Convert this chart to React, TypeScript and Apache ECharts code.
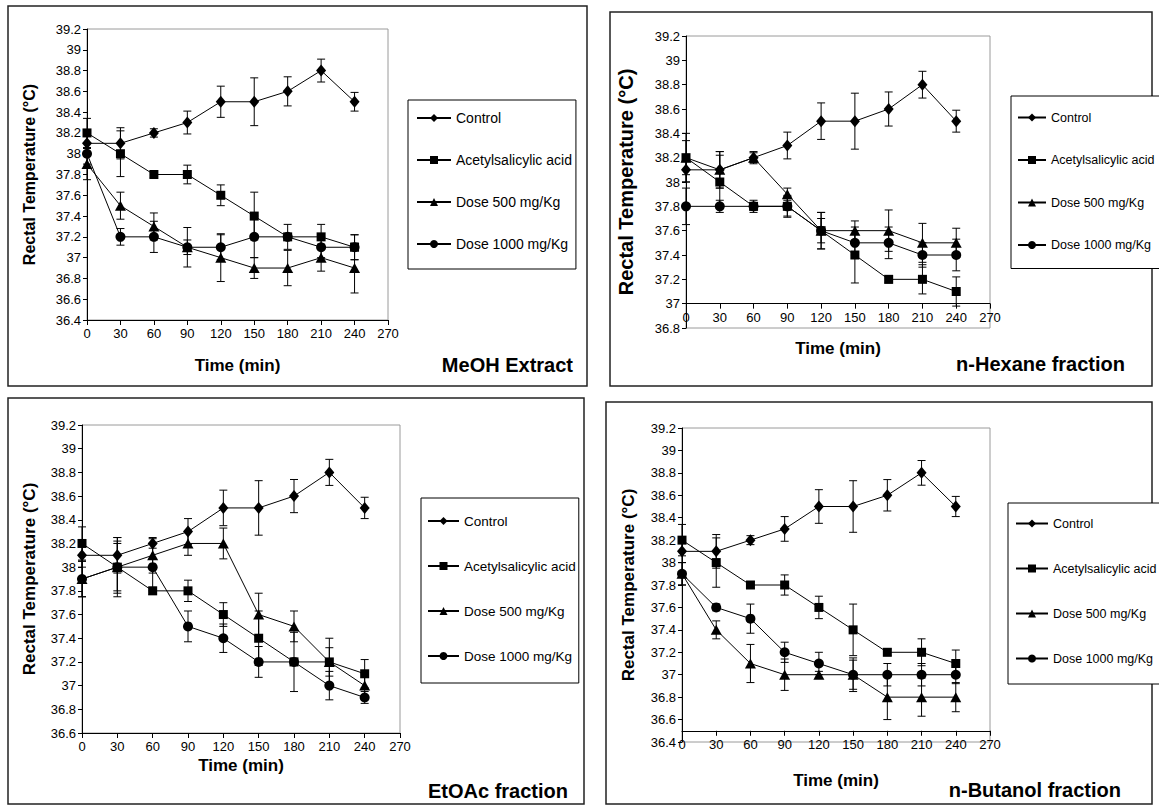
import React, { useEffect, useRef } from "react";
import * as echarts from "echarts";

// ---------- data ----------
const times = [0, 30, 60, 90, 120, 150, 180, 210, 240];
const seriesNames = ["Control", "Acetylsalicylic acid", "Dose 500 mg/Kg", "Dose 1000 mg/Kg"];
const panelTitles = ["MeOH Extract", "n-Hexane fraction", "EtOAc fraction", "n-Butanol fraction"];

const controlMean = [38.1, 38.1, 38.2, 38.3, 38.5, 38.5, 38.6, 38.8, 38.5];
const controlSD = [0.1, 0.15, 0.04, 0.11, 0.15, 0.23, 0.14, 0.11, 0.09];
const aspirinMean = [38.2, 38.0, 37.8, 37.8, 37.6, 37.4, 37.2, 37.2, 37.1];
const aspirinSD = [0.14, 0.22, 0.03, 0.09, 0.1, 0.23, 0.03, 0.12, 0.12];

const meohDose500 = [37.9, 37.5, 37.3, 37.1, 37.0, 36.9, 36.9, 37.0, 36.9];
const meohDose500SD = [0.15, 0.13, 0.13, 0.19, 0.23, 0.1, 0.17, 0.13, 0.24];
const meohDose1000 = [38.0, 37.2, 37.2, 37.1, 37.1, 37.2, 37.2, 37.1, 37.1];
const meohDose1000SD = [0.1, 0.08, 0.15, 0.07, 0.12, 0.2, 0.12, 0.1, 0.12];

const hexDose500 = [38.2, 38.1, 38.2, 37.9, 37.6, 37.6, 37.6, 37.5, 37.5];
const hexDose500SD = [0.2, 0.15, 0.05, 0.05, 0.15, 0.08, 0.17, 0.16, 0.12];
const hexDose1000 = [37.8, 37.8, 37.8, 37.8, 37.6, 37.5, 37.5, 37.4, 37.4];
const hexDose1000SD = [0.15, 0.05, 0.05, 0.08, 0.15, 0.1, 0.13, 0.1, 0.13];

const etDose500 = [37.9, 38.0, 38.1, 38.2, 38.2, 37.6, 37.5, 37.2, 37.0];
const etDose500SD = [0.15, 0.2, 0.15, 0.1, 0.13, 0.18, 0.13, 0.2, 0.1];
const etDose1000 = [37.9, 38.0, 38.0, 37.5, 37.4, 37.2, 37.2, 37.0, 36.9];
const etDose1000SD = [0.15, 0.25, 0.2, 0.13, 0.12, 0.13, 0.25, 0.12, 0.05];

const buDose500 = [37.9, 37.4, 37.1, 37.0, 37.0, 37.0, 36.8, 36.8, 36.8];
const buDose500SD = [0.1, 0.08, 0.17, 0.14, 0.03, 0.13, 0.2, 0.17, 0.13];
const buDose1000 = [37.9, 37.6, 37.5, 37.2, 37.1, 37.0, 37.0, 37.0, 37.0];
const buDose1000SD = [0.1, 0.03, 0.13, 0.09, 0.1, 0.15, 0.1, 0.1, 0.08];

const yMins = [36.4, 36.8, 36.6, 36.4];
const yMax = 39.2;
const xCrossAt = [36.4, 37.0, 36.6, 36.5];

const panelData = [
  [[controlMean, controlSD], [aspirinMean, aspirinSD], [meohDose500, meohDose500SD], [meohDose1000, meohDose1000SD]],
  [[controlMean, controlSD], [aspirinMean, aspirinSD], [hexDose500, hexDose500SD], [hexDose1000, hexDose1000SD]],
  [[controlMean, controlSD], [aspirinMean, aspirinSD], [etDose500, etDose500SD], [etDose1000, etDose1000SD]],
  [[controlMean, controlSD], [aspirinMean, aspirinSD], [buDose500, buDose500SD], [buDose1000, buDose1000SD]],
];

// ---------- layout / style ----------
const NORMAL = "'Liberation Sans', Arial, sans-serif";

const layouts = [
  {
    grid: { left: 87, top: 29, width: 301, height: 291 },
    box: [8, 6, 579, 380],
    yNameGap: 50, yNameSize: 16, xNameGap: 37, xNameSize: 17,
    title: { x: 573, y: 365 },
    legend: { left: 408, top: 100, padding: [11, 4, 18, 8], itemWidth: 34, itemGap: 28, size: 14 },
  },
  {
    grid: { left: 686, top: 36, width: 304, height: 292 },
    box: [610, 12, 542, 374],
    yNameGap: 50, yNameSize: 20, xNameGap: 36, xNameSize: 17,
    title: { x: 1125, y: 364 },
    legend: { left: 1011, top: 96, padding: [15, 8, 17, 6], itemWidth: 28, itemGap: 29.5, size: 12.5 },
  },
  {
    grid: { left: 82, top: 425, width: 318, height: 308 },
    box: [8, 398, 576, 406],
    yNameGap: 44, yNameSize: 17, xNameGap: 24, xNameSize: 17,
    title: { x: 568, y: 791 },
    legend: { left: 421, top: 498, padding: [16, 3, 20, 6], itemWidth: 31, itemGap: 31, size: 13.5 },
  },
  {
    grid: { left: 682, top: 428, width: 308, height: 314 },
    box: [606, 402, 546, 402],
    yNameGap: 45, yNameSize: 17, xNameGap: 41, xNameSize: 17,
    title: { x: 1121, y: 790 },
    legend: { left: 1008, top: 503, padding: [14, 8, 19, 7], itemWidth: 32, itemGap: 32, size: 12.5 },
  },
];

const symbols = ["diamond", "rect", "triangle", "circle"];
const symbolSizes: any[] = [[10, 12], 9, [11, 10], 10];

function fmt(v: number) {
  return String(Math.round(v * 10) / 10);
}

function buildOption() {
  const grid: any[] = [];
  const xAxis: any[] = [];
  const yAxis: any[] = [];
  const series: any[] = [];
  const legend: any[] = [];
  const graphic: any[] = [];

  layouts.forEach((L, p) => {
    grid.push({ ...L.grid, show: true, borderColor: "#9a9a9a", borderWidth: 1, backgroundColor: "#fff", containLabel: false });
    const step = L.grid.height / ((yMax - yMins[p]) / 0.2);
    const offset = -((xCrossAt[p] - yMins[p]) / 0.2) * step;
    xAxis.push({
      type: "value",
      gridIndex: p,
      min: 0,
      max: 270,
      interval: 30,
      offset,
      name: "Time (min)",
      nameLocation: "middle",
      nameGap: L.xNameGap,
      nameTextStyle: { fontFamily: NORMAL, fontWeight: "bold", fontSize: L.xNameSize, color: "#000" },
      axisLine: { show: true, lineStyle: { color: "#000", width: 1 } },
      axisTick: { show: true, inside: false, length: 5, lineStyle: { color: "#000" } },
      axisLabel: { fontFamily: NORMAL, fontSize: 13, color: "#000", margin: 7, formatter: fmt },
      splitLine: { show: false },
    });
    yAxis.push({
      type: "value",
      gridIndex: p,
      min: yMins[p],
      max: yMax,
      interval: 0.2,
      name: "Rectal Temperature (°C)",
      nameLocation: "middle",
      nameRotate: 90,
      nameGap: L.yNameGap,
      nameTextStyle: { fontFamily: NORMAL, fontWeight: "bold", fontSize: L.yNameSize, color: "#000" },
      axisLine: { show: true, onZero: false, lineStyle: { color: "#000", width: 1 } },
      axisTick: { show: true, inside: false, length: 4, lineStyle: { color: "#000" } },
      axisLabel: { fontFamily: NORMAL, fontSize: 13, color: "#000", margin: 6, formatter: fmt },
      splitLine: { show: false },
    });

    panelData[p].forEach(([mean, sd], s) => {
      series.push({
        type: "custom",
        name: "err-" + p + "-" + s,
        xAxisIndex: p,
        yAxisIndex: p,
        z: 2,
        silent: true,
        encode: { x: 0, y: [1, 2] },
        data: times.map((t, i) => [t, mean[i] - sd[i], mean[i] + sd[i]]),
        renderItem: (params: any, api: any) => {
          const x = api.value(0);
          const lo = api.coord([x, api.value(1)]);
          const hi = api.coord([x, api.value(2)]);
          const w = 4;
          const st = { stroke: "#000", lineWidth: 1 };
          return {
            type: "group",
            children: [
              { type: "line", shape: { x1: hi[0], y1: hi[1], x2: lo[0], y2: lo[1] }, style: st },
              { type: "line", shape: { x1: hi[0] - w, y1: hi[1], x2: hi[0] + w, y2: hi[1] }, style: st },
              { type: "line", shape: { x1: lo[0] - w, y1: lo[1], x2: lo[0] + w, y2: lo[1] }, style: st },
            ],
          };
        },
      });
      series.push({
        type: "line",
        name: seriesNames[s],
        xAxisIndex: p,
        yAxisIndex: p,
        z: 3,
        data: times.map((t, i) => [t, mean[i]]),
        symbol: symbols[s],
        symbolSize: symbolSizes[s],
        showSymbol: true,
        showAllSymbol: true,
        lineStyle: { color: "#000", width: 1 },
        itemStyle: { color: "#000" },
        emphasis: { disabled: true },
      });
    });

    const lg = L.legend;
    legend.push({
      data: seriesNames,
      orient: "vertical",
      left: lg.left,
      top: lg.top,
      padding: lg.padding,
      itemWidth: lg.itemWidth,
      itemHeight: 10,
      itemGap: lg.itemGap,
      borderColor: "#000",
      borderWidth: 1,
      backgroundColor: "#fff",
      selectedMode: false,
      textStyle: { fontFamily: NORMAL, fontSize: lg.size, color: "#000", padding: [0, 0, 0, 0] },
    });

    graphic.push({
      type: "rect",
      silent: true,
      z: -10,
      shape: { x: L.box[0], y: L.box[1], width: L.box[2], height: L.box[3] },
      style: { fill: "none", stroke: "#222", lineWidth: 1.5 },
    });
    graphic.push({
      type: "text",
      silent: true,
      x: L.title.x,
      y: L.title.y,
      style: {
        text: panelTitles[p],
        fill: "#000",
        font: "bold 20px " + NORMAL,
        align: "right",
        verticalAlign: "middle",
      },
    });
  });

  return {
    animation: false,
    backgroundColor: "#fff",
    grid,
    xAxis,
    yAxis,
    legend,
    series,
    graphic,
  };
}

export default function App() {
  const ref = useRef<HTMLDivElement>(null);
  useEffect(() => {
    if (!ref.current) return;
    const chart = echarts.init(ref.current, undefined, { renderer: "svg" });
    chart.setOption(buildOption() as any);
    return () => chart.dispose();
  }, []);
  return (
    <div
      ref={ref}
      style={{ position: "absolute", left: 0, top: 0, width: 1159, height: 811, background: "#fff" }}
    />
  );
}
